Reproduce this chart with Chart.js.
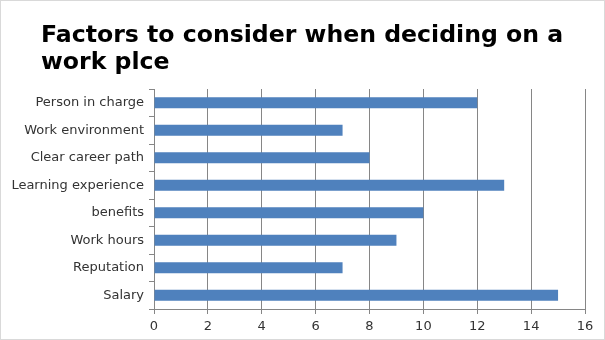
<!DOCTYPE html>
<html>
<head>
<meta charset="utf-8">
<script src="https://cdn.jsdelivr.net/npm/chart.js@4.4.1/dist/chart.umd.min.js"></script>
<style>
  html, body { margin: 0; padding: 0; background: #ffffff; }
  canvas { display: block; }
</style>
</head>
<body>
<canvas id="c" width="605" height="340"></canvas>
<script>
const titleLines = ["Factors to consider when deciding on a", "work plce"];
const categories = ["Person in charge", "Work environment", "Clear career path", "Learning experience", "benefits", "Work hours", "Reputation", "Salary"];
const values = [12, 7, 8, 13, 10, 9, 7, 15];
const xTicks = [0, 2, 4, 6, 8, 10, 12, 14, 16];

const frameAndTitle = {
  id: 'frameAndTitle',
  beforeDraw(chart) {
    const ctx = chart.ctx;
    ctx.save();
    ctx.fillStyle = '#ffffff';
    ctx.fillRect(0, 0, chart.width, chart.height);
    ctx.strokeStyle = '#d9d9d9';
    ctx.lineWidth = 1;
    ctx.strokeRect(0.5, 0.5, chart.width - 1, chart.height - 1);
    ctx.restore();
  },
  afterDraw(chart) {
    const ctx = chart.ctx;
    ctx.save();
    ctx.fillStyle = '#000000';
    ctx.font = 'bold 23.6px "DejaVu Sans"';
    ctx.textBaseline = 'alphabetic';
    ctx.textAlign = 'left';
    ctx.fillText(titleLines[0], 41, 42);
    ctx.fillText(titleLines[1], 41, 69);
    ctx.restore();
  }
};

new Chart(document.getElementById('c'), {
  type: 'bar',
  data: {
    labels: categories,
    datasets: [{
      data: values,
      backgroundColor: '#4f81bd',
      borderWidth: 0,
      categoryPercentage: 1,
      barPercentage: 0.4
    }]
  },
  options: {
    indexAxis: 'y',
    responsive: false,
    animation: false,
    layout: { padding: { top: 89, right: 20, left: 0, bottom: 0 } },
    plugins: { legend: { display: false }, title: { display: false }, tooltip: { enabled: false } },
    scales: {
      x: {
        min: 0, max: 16,
        afterBuildTicks(scale) { scale.ticks = xTicks.map(v => ({ value: v })); },
        grid: { color: '#868686', lineWidth: 1, tickLength: 5, drawOnChartArea: true },
        border: { color: '#868686', width: 1 },
        ticks: { color: '#333333', font: { family: '"DejaVu Sans"', size: 13 }, padding: 5, maxRotation: 0 },
        afterFit(scale) { scale.height = 31; }
      },
      y: {
        grid: { color: '#868686', tickLength: 5, drawOnChartArea: false, offset: true },
        border: { color: '#868686', width: 1 },
        ticks: { color: '#333333', font: { family: '"DejaVu Sans"', size: 13 }, padding: 5 },
        afterFit(scale) { scale.width = 154; }
      }
    }
  },
  plugins: [frameAndTitle]
});
</script>
</body>
</html>
